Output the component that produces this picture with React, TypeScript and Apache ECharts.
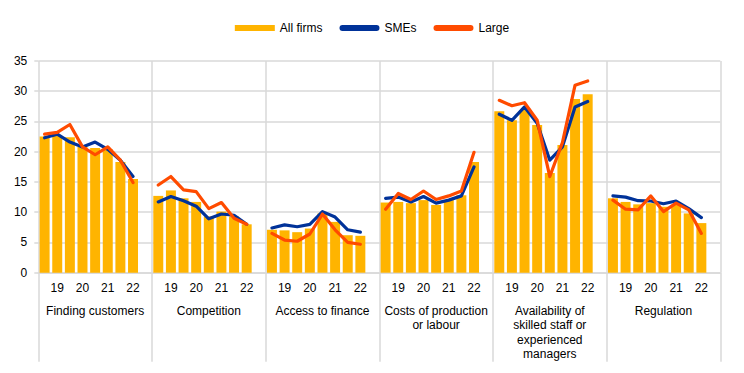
import React, { useEffect, useRef } from "react";
import * as echarts from "echarts";

const groups = [
  "Finding customers",
  "Competition",
  "Access to finance",
  "Costs of production\nor labour",
  "Availability of\nskilled staff or\nexperienced\nmanagers",
  "Regulation",
];
// year labels shown under the 2nd, 4th, 6th and 8th period of each group
const yearLabels = ["", "19", "", "20", "", "21", "", "22", ""];

const allFirms = [
  [22.5, 22.6, 22.4, 20.8, 20.6, 20.4, 18.3, 15.5],
  [12.7, 13.6, 12.3, 11.7, 9.3, 10.1, 9.3, 8.0],
  [7.1, 7.0, 6.7, 7.3, 9.8, 8.4, 6.2, 6.1],
  [11.6, 11.7, 11.5, 12.0, 11.2, 12.0, 12.8, 18.3],
  [26.7, 25.2, 26.9, 24.4, 16.5, 21.1, 28.7, 29.5],
  [12.3, 11.7, 11.3, 11.5, 10.9, 11.2, 9.8, 8.2],
];
const smes = [
  [22.3, 22.9, 21.6, 20.8, 21.6, 20.4, 18.6, 15.9],
  [11.7, 12.6, 11.9, 11.0, 8.9, 9.7, 9.5, 8.0],
  [7.4, 7.9, 7.6, 8.0, 10.1, 9.2, 7.1, 6.7],
  [12.3, 12.5, 11.7, 12.6, 11.5, 12.0, 12.7, 17.5],
  [26.2, 25.2, 27.4, 24.7, 18.6, 20.8, 27.4, 28.3],
  [12.7, 12.5, 11.9, 11.85, 11.4, 11.85, 10.6, 9.1],
];
const large = [
  [22.9, 23.2, 24.5, 20.8, 19.5, 20.8, 18.6, 14.9],
  [14.5, 15.9, 13.7, 13.4, 10.6, 11.6, 9.0, 8.0],
  [6.5, 5.4, 5.2, 6.4, 9.7, 7.1, 5.0, 4.7],
  [10.5, 13.1, 12.1, 13.5, 12.1, 12.7, 13.5, 19.9],
  [28.5, 27.6, 28.1, 25.2, 15.9, 21.5, 31.0, 31.7],
  [12.0, 10.5, 10.4, 12.7, 10.1, 11.5, 10.4, 6.5],
];

const flatten = (arr: number[][]) => {
  const out: (number | null)[] = [];
  arr.forEach((g) => {
    g.forEach((v) => out.push(v));
    out.push(null);
  });
  return out;
};

const cats: string[] = [];
groups.forEach((_, gi) => yearLabels.forEach((y, si) => cats.push(`${gi}-${si}`)));

const FONT = "Arial, 'Liberation Sans', sans-serif";
const GRID = "#d9d9d9";
const CAPSULE = "path://M3,0 L37,0 A3,3 0 0 1 37,6 L3,6 A3,3 0 0 1 3,0 Z";

export default function App() {
  const ref = useRef<HTMLDivElement>(null);
  useEffect(() => {
    if (!ref.current) return;
    const chart = echarts.init(ref.current, undefined, { renderer: "svg" });
    chart.setOption({
      animation: false,
      textStyle: { fontFamily: FONT },
      legend: {
        top: 17,
        left: "center",
        itemWidth: 40,
        itemHeight: 6,
        itemGap: 17,
        textStyle: { fontSize: 12, color: "#000", fontFamily: FONT },
        data: [
          { name: "All firms", icon: "rect" },
          { name: "SMEs", icon: CAPSULE, itemStyle: { color: "#003299" } },
          { name: "Large", icon: CAPSULE, itemStyle: { color: "#FF4B00" } },
        ],
      },
      grid: { left: 38.3, right: 23.7, top: 61, bottom: 100.3, containLabel: false },
      xAxis: [
        {
          type: "category",
          data: cats,
          boundaryGap: true,
          axisLine: { show: true, lineStyle: { color: GRID, width: 1.5 } },
          axisTick: { show: false },
          splitLine: { show: false },
          axisLabel: {
            interval: 0,
            margin: 9,
            fontSize: 12,
            color: "#000",
            fontFamily: FONT,
            formatter: (v: string) => yearLabels[Number(v.split("-")[1])],
          },
        },
        {
          type: "category",
          data: groups,
          position: "bottom",
          boundaryGap: true,
          axisLine: { show: false },
          axisTick: {
            show: true,
            interval: 0,
            length: 89,
            lineStyle: { color: GRID, width: 1.5 },
          },
          splitLine: { show: true, interval: 0, lineStyle: { color: GRID, width: 1.5 } },
          axisLabel: {
            interval: 0,
            margin: 31,
            fontSize: 12,
            lineHeight: 14.4,
            color: "#000",
            fontFamily: FONT,
            verticalAlign: "top",
          },
        },
      ],
      yAxis: {
        type: "value",
        min: 0,
        max: 35,
        interval: 5,
        axisLine: { show: false },
        axisTick: { show: true, length: 4, lineStyle: { color: GRID, width: 1.5 } },
        splitLine: { show: true, lineStyle: { color: GRID, width: 1.5 } },
        axisLabel: { margin: 11, fontSize: 12, color: "#000", fontFamily: FONT },
      },
      series: [
        {
          name: "All firms",
          type: "bar",
          data: flatten(allFirms),
          barCategoryGap: "21%",
          itemStyle: { color: "#FFB400" },
        },
        {
          name: "SMEs",
          type: "line",
          data: flatten(smes),
          symbol: "none",
          connectNulls: false,
          lineStyle: { color: "#003299", width: 3.2, join: "round", cap: "round" },
          itemStyle: { color: "#003299" },
        },
        {
          name: "Large",
          type: "line",
          data: flatten(large),
          symbol: "none",
          connectNulls: false,
          lineStyle: { color: "#FF4B00", width: 3.2, join: "round", cap: "round" },
          itemStyle: { color: "#FF4B00" },
        },
      ],
    });
    return () => chart.dispose();
  }, []);
  return <div ref={ref} style={{ width: 744, height: 373, margin: -8 }} />;
}
